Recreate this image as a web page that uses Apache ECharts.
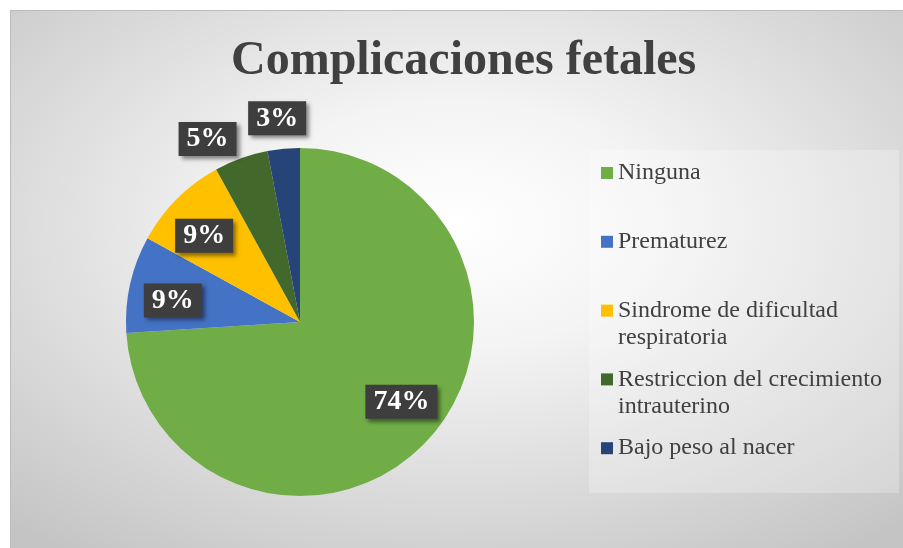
<!DOCTYPE html>
<html>
<head>
<meta charset="utf-8">
<script src="https://cdn.jsdelivr.net/npm/echarts@6/dist/echarts.min.js"></script>
<style>
  html, body { margin: 0; padding: 0; background: #fff; }
  #main { width: 903px; height: 548px; }
</style>
</head>
<body>
<div id="main"></div>
<script>
// datos del grafico
var categorias = ['Ninguna', 'Prematurez', 'Sindrome de dificultad respiratoria', 'Restriccion del crecimiento intrauterino', 'Bajo peso al nacer'];
var porcentajes = [74, 9, 9, 5, 3];
var lineasLeyenda = [['Ninguna'], ['Prematurez'], ['Sindrome de dificultad', 'respiratoria'], ['Restriccion del crecimiento', 'intrauterino'], ['Bajo peso al nacer']];
var colores = ['#70ad47', '#4472c4', '#ffc000', '#43682b', '#264478'];
// pequeno giro (grados) de cada etiqueta respecto al centro de su rebanada, como en el original
var giroEtiquetas = [-5, -3, -3, -7, -1];

var grafico = echarts.init(document.getElementById('main'));

var serif = "'Liberation Serif', 'Times New Roman', serif";
var centro = [300, 322];
var radio = 174;

var etiqueta = {
	color: '#fff',
	fontFamily: serif,
	fontWeight: 'bold',
	fontSize: 28,
	lineHeight: 30,
	backgroundColor: '#3e3e3e',
	padding: [2, 8],
	distanceToLabelLine: 0,
	shadowColor: 'rgba(0,0,0,0.45)',
	shadowBlur: 4,
	shadowOffsetX: 3,
	shadowOffsetY: 3,
	formatter: '{c}%'
};

// centra la etiqueta en su punto de anclaje y la gira un poco alrededor del centro
function ubicarEtiqueta(p) {
	var r = p.labelRect;
	var ax = p.align === 'right' ? r.x + r.width : (p.align === 'left' ? r.x : r.x + r.width / 2);
	var ay = r.y + r.height / 2;
	var a = giroEtiquetas[p.dataIndex] * Math.PI / 180;
	var dx = ax - centro[0], dy = ay - centro[1];
	return {
		x: centro[0] + dx * Math.cos(a) - dy * Math.sin(a),
		y: centro[1] + dx * Math.sin(a) + dy * Math.cos(a),
		align: 'center',
		verticalAlign: 'middle'
	};
}

// las rebanadas pequenas llevan la etiqueta fuera del circulo
function serieEtiquetas(radios, fuera) {
	return {
		type: 'pie',
		center: centro,
		radius: radios,
		startAngle: 90,
		silent: true,
		avoidLabelOverlap: false,
		itemStyle: { color: 'rgba(0,0,0,0)' },
		label: Object.assign({ position: fuera ? 'outside' : 'inside' }, etiqueta),
		labelLine: { show: false, length: 31, length2: 0 },
		labelLayout: ubicarEtiqueta,
		emphasis: { disabled: true },
		data: categorias.map(function (c, i) {
			return { name: c, value: porcentajes[i], label: { show: (porcentajes[i] < 9) === fuera } };
		})
	};
}

option = {
	animation: false,
	graphic: [{
		type: 'rect',
		x: 10, y: 10,
		scaleX: 893 / 538,
		shape: { x: 0, y: 0, width: 538, height: 538 },
		style: {
			fill: {
				type: 'radial', x: 0.5, y: 0.4, r: 0.75,
				colorStops: [
					{ offset: 0, color: '#ffffff' },
					{ offset: 0.3, color: '#f4f4f4' },
					{ offset: 1, color: '#c4c4c4' }
				]
			}
		},
		z: -10
	}, {
		type: 'polyline',
		shape: { points: [[10.5, 548], [10.5, 10.5], [903, 10.5]] },
		style: { stroke: '#bcbcbc', lineWidth: 1, fill: null },
		z: -9
	}, {
		type: 'rect',
		shape: { x: 589, y: 150, width: 310, height: 343 },
		style: { fill: 'rgba(255,255,255,0.25)' },
		z: -8
	}],
	title: {
		text: 'Complicaciones fetales',
		left: 231,
		top: 38,
		padding: 0,
		textStyle: {
			fontFamily: serif,
			fontWeight: 'bold',
			fontSize: 48,
			lineHeight: 48,
			color: '#404040'
		}
	},
	legend: {
		orient: 'vertical',
		left: 601,
		top: 173 - 40.5,
		padding: 0,
		itemGap: -12.2,
		itemWidth: 12,
		itemHeight: 12,
		icon: 'rect',
		selectedMode: false,
		data: categorias,
		// tres lineas: la primera vacia deja el cuadro alineado con la primera linea del texto
		formatter: function (nombre) {
			var l = lineasLeyenda[categorias.indexOf(nombre)];
			return '\n' + l.join('\n') + (l.length < 2 ? '\n' : '');
		},
		textStyle: {
			fontFamily: serif,
			fontSize: 24,
			lineHeight: 27,
			color: '#404040'
		}
	},
	series: [{
		name: 'Complicaciones fetales',
		type: 'pie',
		center: centro,
		radius: radio,
		startAngle: 90,
		label: { show: false },
		labelLine: { show: false },
		emphasis: { scale: false },
		data: categorias.map(function (c, i) {
			return { name: c, value: porcentajes[i], itemStyle: { color: colores[i] } };
		})
	},
	serieEtiquetas([100, 152], false),
	serieEtiquetas(radio, true)
	]
};

grafico.setOption(option);
</script>
</body>
</html>
